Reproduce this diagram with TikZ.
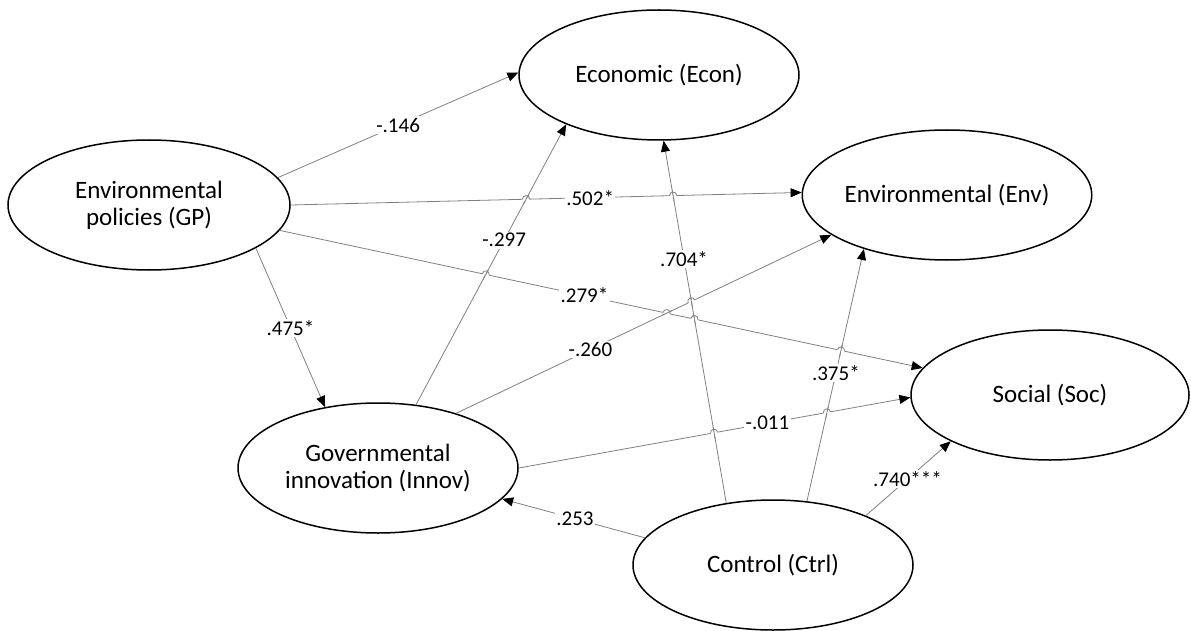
\documentclass[tikz,border=0pt]{standalone}
\usepackage{fontspec}
\setmainfont{Carlito}
\usetikzlibrary{shapes.geometric,arrows.meta,calc,intersections}
\definecolor{linecol}{gray}{0.5}
\newcommand\linehop[5]{%
  \draw[white,line width=2.6pt] ($(#1)!3.6pt!(#2)$) -- ($(#1)!3.6pt!(#3)$);
  \draw[linecol,line width=0.8pt] ($(#1)!6pt!(#4)$) -- ($(#1)!6pt!(#5)$);
  \draw[linecol,line width=0.8pt] ($(#1)!3.6pt!(#2)$) .. controls ($(#1)!3.6pt!(#2)!4.8pt!90:(#1)$) and ($(#1)!3.6pt!(#3)!4.8pt!-90:(#1)$) .. ($(#1)!3.6pt!(#3)$);
}
\begin{document}
\begin{tikzpicture}[x=1pt,y=-1pt,
  construct/.style={ellipse,draw=black,line width=1.5pt,minimum width=280pt,minimum height=130pt,inner sep=0pt,align=center,font=\fontsize{25}{27}\selectfont},
  path/.style={draw=linecol,line width=0.8pt,-{Triangle[length=11pt,width=9pt,color=black]}},
  coef/.style={fill=white,inner sep=1.5pt,font=\fontsize{21}{23}\selectfont}]
\useasboundingbox (0,0) rectangle (1191,631);
\node[construct] (econ) at (659,75) {Economic (Econ)};
\node[construct] (env) at (947,195) {Environmental (Env)};
\node[construct,minimum width=282pt] (gp) at (149,205) {Environmental\\policies (GP)};
\node[construct,minimum width=278pt] (soc) at (1050,395) {Social (Soc)};
\node[construct] (innov) at (378,468) {Governmental\\innovation (Innov)};
\node[construct] (ctrl) at (773,565) {Control (Ctrl)};

\draw[path] (gp.12) -- node[coef,pos=0.5] {-.146} (econ.179);
\draw[path,name path=p502] (gp.0) -- node[coef,pos=0.586] {.502*} (env.179);
\draw[path,name path=p279] (gp.-11) -- node[coef,pos=0.474] {.279*} (soc.168);
\draw[path] (gp.-22) -- node[coef,pos=0.5] {.475*} (innov.131.5);
\draw[path,name path=p297] (innov.59.6) -- node[coef,pos=0.587] {-.297} (econ.208);
\draw[path,name path=p260] (innov.35) -- node[coef,pos=0.358] {-.260} (env.199);
\draw[path,name path=p011] (innov.0) -- node[coef,pos=0.635] {-.011} (soc.181);
\draw[path,name path=p704] (ctrl.127) -- node[coef,pos=0.673] {.704*} (econ.-86);
\draw[path,name path=p375] (ctrl.62) -- node[coef,pos=0.508] {.375*} (env.213.5);
\draw[path] (ctrl.28.5) -- node[coef,pos=0.49] {.740***} (soc.205);
\draw[path] (ctrl.168) -- node[coef,pos=0.49] {.253} (innov.-14);

\path[name intersections={of=p502 and p297,by=h1}];
\path[name intersections={of=p502 and p704,by=h2}];
\path[name intersections={of=p279 and p297,by=h3}];
\path[name intersections={of=p279 and p260,by=h4}];
\path[name intersections={of=p279 and p704,by=h5}];
\path[name intersections={of=p279 and p375,by=h6}];
\path[name intersections={of=p260 and p704,by=h7}];
\path[name intersections={of=p011 and p704,by=h8}];
\path[name intersections={of=p011 and p375,by=h9}];

\linehop{h1}{gp.0}{env.179}{innov.59.6}{econ.208}
\linehop{h2}{gp.0}{env.179}{ctrl.127}{econ.-86}
\linehop{h3}{gp.-11}{soc.168}{innov.59.6}{econ.208}
\linehop{h4}{gp.-11}{soc.168}{innov.35}{env.199}
\linehop{h5}{gp.-11}{soc.168}{ctrl.127}{econ.-86}
\linehop{h6}{gp.-11}{soc.168}{ctrl.62}{env.213.5}
\linehop{h7}{innov.35}{env.199}{ctrl.127}{econ.-86}
\linehop{h8}{innov.0}{soc.181}{ctrl.127}{econ.-86}
\linehop{h9}{innov.0}{soc.181}{ctrl.62}{env.213.5}
\end{tikzpicture}
\end{document}
